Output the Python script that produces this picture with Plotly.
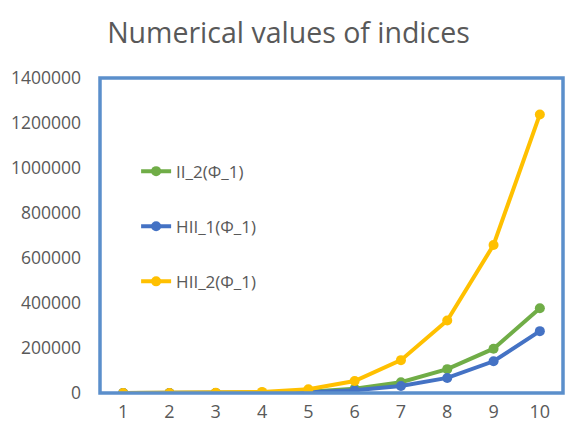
import plotly.graph_objects as go

# x categories and the three series
x_vals = [1, 2, 3, 4, 5, 6, 7, 8, 9, 10]
ii_2 = [0, 0, 300, 1500, 6000, 19000, 48000, 106000, 197000, 377000]
hii_1 = [0, 0, 200, 1000, 3500, 12000, 31000, 67000, 141000, 275000]
hii_2 = [0, 200, 1000, 5000, 17000, 53000, 146000, 322000, 658000, 1238000]

names = ["II_2(\u03a6_1)", "HII_1(\u03a6_1)", "HII_2(\u03a6_1)"]
colors = ["#70AD47", "#4472C4", "#FFC000"]

fig = go.Figure()
for i, (ys, nm, col) in enumerate(zip([ii_2, hii_1, hii_2], names, colors)):
    fig.add_trace(go.Scatter(x=x_vals, y=ys, mode='lines+markers', name=nm,
                             legendgroup=str(i),
                             line=dict(color=col, width=4),
                             marker=dict(color=col, size=10)))

# page body has an 8px margin, so the figure is 8px smaller and margins shifted
fig.update_layout(
    width=573, height=432,
    margin=dict(l=92, r=18, t=70, b=47),
    paper_bgcolor='white', plot_bgcolor='white',
    font=dict(family="Open Sans, sans-serif", color="#595959", size=17),
    title=dict(text="Numerical values of indices", x=0.4895, xanchor='center',
               y=0.942, yanchor='middle', font=dict(size=28.5, color="#595959")),
    showlegend=True,
    legend=dict(x=0.078, y=0.76, xanchor='left', yanchor='top',
                bgcolor='rgba(0,0,0,0)', tracegroupgap=30,
                font=dict(size=17, color="#595959")),
    xaxis=dict(type='category', range=[-0.5, 9.5], showgrid=False, zeroline=False,
               showline=False, ticks='', tickfont=dict(size=18), ticklabelstandoff=6,
               automargin=False),
    yaxis=dict(range=[0, 1400000], dtick=200000, showgrid=False, zeroline=False,
               showline=False, ticks='', tickformat='d', tickfont=dict(size=17.5),
               ticklabelstandoff=18, automargin=False),
)

# blue frame around the plot area
fig.add_shape(type='rect', xref='paper', yref='paper', x0=0, y0=0, x1=1, y1=1,
              line=dict(color="#5B8FCB", width=3.5), layer='above')

fig.write_html("out.html")
